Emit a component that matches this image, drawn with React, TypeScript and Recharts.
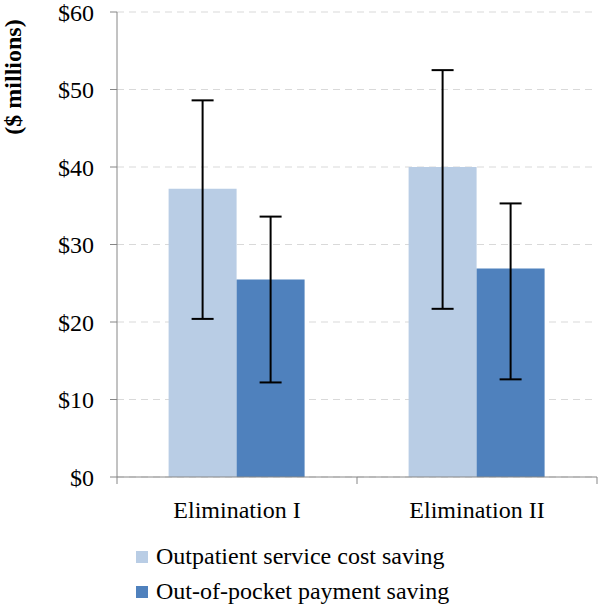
import React from "react";
import {
  BarChart, Bar, XAxis, YAxis, CartesianGrid, ErrorBar, Legend,
} from "recharts";

const categories = ["Elimination I", "Elimination II"];
const outpatient = [37.2, 40.0];
const outpatientLow = [20.4, 21.7];
const outpatientHigh = [48.6, 52.5];
const outOfPocket = [25.5, 26.9];
const outOfPocketLow = [12.2, 12.6];
const outOfPocketHigh = [33.6, 35.3];
const yTicks = [0, 10, 20, 30, 40, 50, 60];
const seriesNames = ["Outpatient service cost saving", "Out-of-pocket payment saving"];

const W = 600;
const H = 612;
const YAXIS_W = 117;
const RIGHT = 3;
const PLOT_W = W - YAXIS_W - RIGHT;
const FONT = "'Liberation Serif', 'Times New Roman', serif";
const AXIS = "#868686";
const LIGHT = "#b9cde5";
const DARK = "#4f81bd";

const data = categories.map((name, i) => ({
  name,
  outpatient: outpatient[i],
  outpatientErr: [outpatient[i] - outpatientLow[i], outpatientHigh[i] - outpatient[i]],
  outOfPocket: outOfPocket[i],
  outOfPocketErr: [outOfPocket[i] - outOfPocketLow[i], outOfPocketHigh[i] - outOfPocket[i]],
}));

const XTick = (props: any) => {
  const { x, y, payload, index } = props;
  const half = PLOT_W / categories.length / 2;
  return (
    <g>
      {index === 0 && <line x1={x - half} x2={x - half} y1={y} y2={y + 7} stroke={AXIS} />}
      <line x1={x + half} x2={x + half} y1={y} y2={y + 7} stroke={AXIS} />
      <text x={x} y={y + 33} textAnchor="middle" dominantBaseline="central"
        fontFamily={FONT} fontSize={24} fill="#000">{payload.value}</text>
    </g>
  );
};

const renderLegend = () => (
  <div style={{ fontFamily: FONT, fontSize: 24, color: "#000", lineHeight: "35px" }}>
    {seriesNames.map((n, i) => (
      <div key={n} style={{ display: "flex", alignItems: "center", whiteSpace: "nowrap" }}>
        <span style={{ display: "inline-block", width: 12, height: 12, background: i === 0 ? LIGHT : DARK, marginRight: 8 }} />
        {n}
      </div>
    ))}
  </div>
);

export default function App() {
  return (
    <div style={{ position: "absolute", left: 0, top: 0, background: "#fff" }}>
      <BarChart width={W} height={H} data={data} margin={{ top: 12, right: RIGHT, bottom: 0, left: 0 }}
        barCategoryGap="21.5%" barGap={0}>
        <CartesianGrid vertical={false} stroke="#d9d9d9" strokeDasharray="7 5" />
        <XAxis dataKey="name" height={135} axisLine={{ stroke: AXIS }} tickLine={false}
          tickSize={0} tickMargin={0} tick={<XTick />} interval={0} />
        <YAxis width={YAXIS_W} domain={[0, 60]} ticks={yTicks} interval={0}
          tickFormatter={(v) => `$${v}`} axisLine={{ stroke: AXIS }} tickLine={{ stroke: AXIS }}
          tickSize={7} tickMargin={16}
          tick={{ fontFamily: FONT, fontSize: 24, fill: "#000" }}
          label={{
            content: () => (
              <text x={13} y={77} transform="rotate(-90 13 77)" textAnchor="middle" dominantBaseline="central"
                fontFamily={FONT} fontSize={24} fontWeight="bold" fill="#000">($ millions)</text>
            ),
          }} />
        <Legend content={renderLegend} layout="vertical" align="center" verticalAlign="middle"
          wrapperStyle={{ left: 136, top: 539, width: "auto" }} />
        <Bar dataKey="outpatient" name={seriesNames[0]} fill={LIGHT} isAnimationActive={false}>
          <ErrorBar dataKey="outpatientErr" width={11} strokeWidth={2} stroke="#000" direction="y" isAnimationActive={false} />
        </Bar>
        <Bar dataKey="outOfPocket" name={seriesNames[1]} fill={DARK} isAnimationActive={false}>
          <ErrorBar dataKey="outOfPocketErr" width={11} strokeWidth={2} stroke="#000" direction="y" isAnimationActive={false} />
        </Bar>
      </BarChart>
    </div>
  );
}
